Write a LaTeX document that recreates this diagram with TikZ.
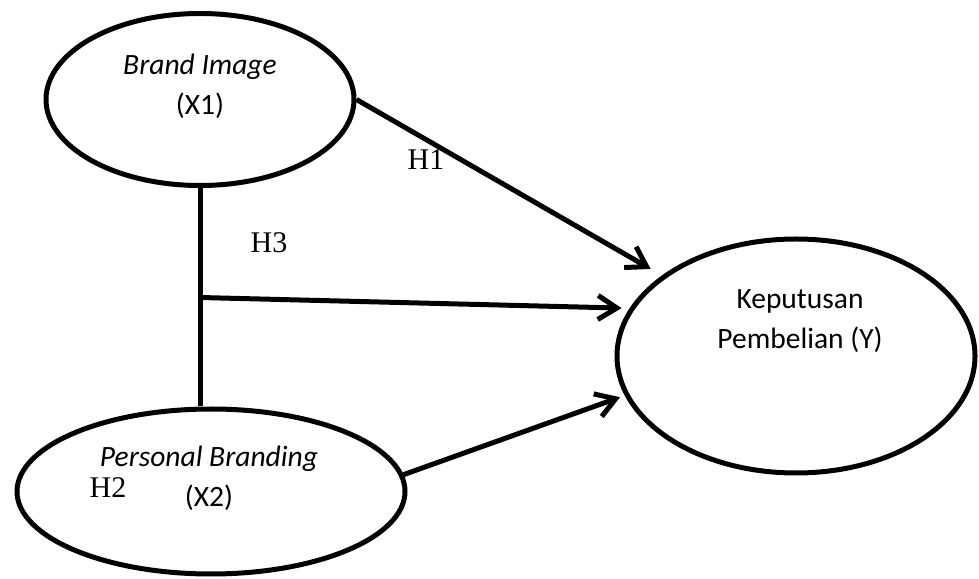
\documentclass[tikz,border=0pt]{standalone}
\usepackage{fontspec}
\setmainfont{Liberation Serif}
\newfontfamily\carlito{Carlito}
\usetikzlibrary{shapes, arrows.meta, positioning}

\begin{document}
\begin{tikzpicture}[
  x=1pt, y=1pt,
  line width=5pt,
  factor/.style={ellipse, draw, inner sep=0pt},
  vartext/.style={align=center, font=\fontsize{29.5}{40}\selectfont\carlito},
  hlabel/.style={font=\fontsize{30}{36}\selectfont},
  link/.style={-{Straight Barb[length=19pt, width=24pt]}}
]
  \useasboundingbox (0,0) rectangle (979,578);

  \node (bi) [factor, minimum width=308pt, minimum height=172pt] at (200,478.5) {};
  \node (pb) [factor, minimum width=388pt, minimum height=165pt, on grid, below right=392pt and 11pt of bi] {};
  \node (kp) [factor, minimum width=358pt, minimum height=234pt, on grid, below right=256.5pt and 596pt of bi] {};

  \node (bitxt) [vartext, on grid, above=13.5pt of bi] {\textit{Brand Image}\\(X1)};
  \node (pbtxt) [vartext, on grid, above left=13.5pt and 2pt of pb] {\textit{Personal Branding}\\(X2)};
  \node (kptxt) [vartext, on grid, above right=35pt and 4pt of kp] {Keputusan\\Pembelian (Y)};

  \coordinate [below=109.5pt of bi.south] (junct);

  \draw (bi.south) -- (bi.south |- pb.north);
  \draw[link, shorten >=13pt] (bi.east) -- (kp.149);
  \draw[link, shorten >=8pt] (junct) -- (kp.164);
  \draw[link, shorten >=5pt] (pb.5) -- (kp.193);

  \node (h1) [hlabel] at (426,418) {H1};
  \node (h3) [hlabel] at (269,335) {H3};
  \node (h2) [hlabel] at (108,90) {H2};
\end{tikzpicture}
\end{document}
